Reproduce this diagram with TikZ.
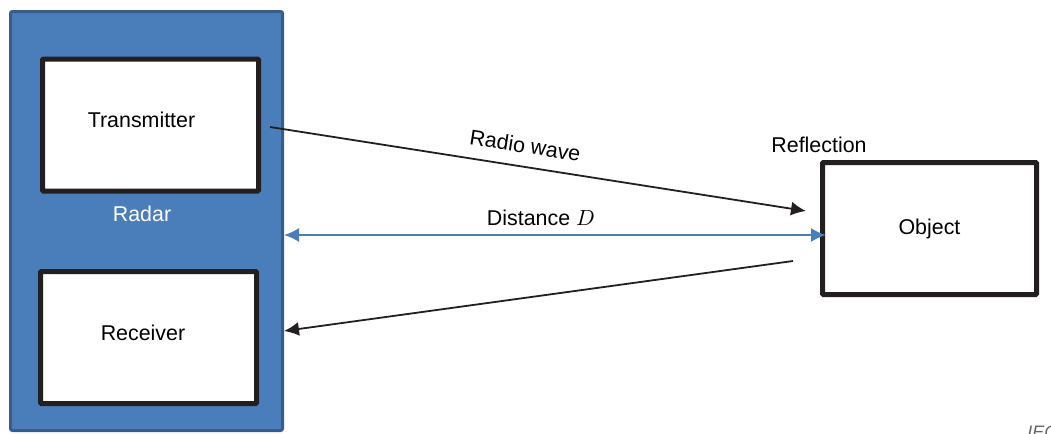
\documentclass[tikz,border=0pt]{standalone}
\usepackage{fontspec}
\setmainfont{Liberation Sans}
\usetikzlibrary{positioning, arrows.meta, calc}

\definecolor{radarblue}{HTML}{4A7EBB}
\definecolor{radarline}{HTML}{385D8A}
\definecolor{inkblack}{HTML}{231F20}

\begin{document}
\begin{tikzpicture}[x=0.5pt, y=-0.5pt, >={Latex[length=7.5pt,width=7pt]},
    font=\fontsize{10.7}{12}\selectfont,
    radarbox/.style={draw=radarline, line width=1.5pt, fill=radarblue, text=white,
        rounded corners=1pt, minimum width=136pt, minimum height=209.5pt, inner sep=0pt},
    unit/.style={draw=inkblack, line width=2.5pt, fill=white, rounded corners=0.5pt,
        minimum width=108pt, minimum height=66pt, inner sep=0pt},
    wave/.style={->, draw=inkblack, line width=0.9pt},
    dist/.style={<->, draw=radarblue, line width=0.9pt}]

    \useasboundingbox (0,0) rectangle (1051,434);

    % ================= Blocks =================
    \node[radarbox, label={[text=white, xshift=-2.25pt, yshift=3.5pt]center:Radar}] (radar) at (146.5,221) {};
    \node[unit, label={[xshift=-4.5pt, yshift=2.5pt]center:Transmitter}] (tx) at (150.5,125) {};
    \node[unit, label={[xshift=-2.75pt, yshift=2.25pt]center:Receiver}] (rx) at (148.5,337.5) {};
    \node[unit, minimum width=107pt] (obj) at (929.5,228.5) {Object};

    % ================= Texts =================
    \node (refl) at (819,145) {Reflection};
    \node[anchor=north west, inner sep=0pt, text=black!60,
        font=\fontsize{9}{10}\selectfont\itshape] (iec) at (1027,426) {IEC};

    % ================= Wave paths =================
    \coordinate (tx out) at (270,127);
    \coordinate (hit) at (806,211);
    \coordinate (echo) at (793,261);
    \coordinate (rx in) at (radar.east |- 0,331);

    % outgoing wave
    \draw[wave] (tx out) -- node[above=3pt, sloped, pos=0.47] (radio) {Radio wave} (hit);

    % distance between radar and object
    \draw[dist] (radar.east |- 0,235) -- node[above=1pt, pos=0.474] (dlab) {Distance $D$}
        ([xshift=3pt]obj.west |- 0,235);

    % reflected wave
    \draw[wave] (echo) -- (rx in);

\end{tikzpicture}
\end{document}
